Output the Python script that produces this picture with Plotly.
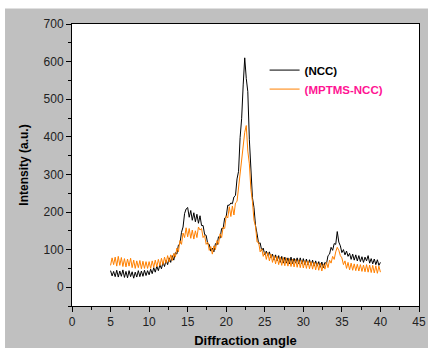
import plotly.graph_objects as go

angle = [round(5.0 + 0.2 * i, 1) for i in range(176)]

ncc = [
    44, 30, 42, 28, 45,
    27, 43, 29, 46, 26,
    42, 25, 44, 28, 41,
    24, 40, 27, 44, 28,
    43, 29, 45, 31, 44,
    33, 48, 36, 52, 40,
    56, 44, 60, 49, 66,
    55, 72, 60, 78, 66,
    84, 72, 92, 88, 112,
    116, 146, 160, 196, 208,
    212, 186, 204, 178, 198,
    174, 194, 170, 190, 164,
    164, 140, 138, 115, 114,
    96, 104, 94, 116, 112,
    134, 130, 156, 156, 184,
    188, 218, 218, 224, 222,
    240, 244, 288, 308, 398,
    448, 538, 610, 555, 520,
    392, 308, 238, 212, 164,
    142, 116, 118, 98, 104,
    86, 96, 84, 94, 78,
    88, 72, 86, 70, 84,
    66, 82, 64, 80, 64,
    78, 62, 80, 63, 77,
    64, 78, 62, 78, 62,
    76, 60, 75, 59, 73,
    58, 72, 56, 70, 56,
    68, 53, 67, 52, 66,
    62, 84, 88, 106, 98,
    116, 114, 148, 120, 110,
    92, 100, 86, 96, 82,
    90, 74, 88, 72, 86,
    70, 84, 68, 81, 66,
    80, 70, 84, 64, 76,
    62, 75, 60, 73, 58,
    66,
]

mptms = [
    58, 78, 60, 80, 56,
    82, 58, 79, 55, 76,
    54, 75, 56, 77, 52,
    72, 50, 70, 52, 71,
    49, 69, 50, 68, 50,
    68, 50, 70, 53, 72,
    54, 74, 57, 77, 60,
    80, 64, 84, 67, 86,
    71, 90, 80, 104, 94,
    124, 114, 144, 132, 158,
    134, 156, 130, 152, 128,
    150, 132, 160, 152, 156,
    132, 138, 114, 120, 98,
    108, 88, 110, 100, 124,
    114, 142, 132, 160, 156,
    190, 184, 214, 188, 216,
    192, 224, 228, 268, 292,
    348, 378, 412, 430, 362,
    328, 260, 228, 178, 162,
    120, 120, 94, 102, 82,
    94, 74, 92, 70, 88,
    66, 84, 62, 82, 60,
    80, 58, 79, 57, 78,
    56, 76, 55, 75, 54,
    74, 53, 73, 52, 72,
    51, 71, 50, 70, 49,
    68, 48, 67, 46, 65,
    45, 64, 43, 62, 48,
    66, 52, 72, 64, 82,
    74, 94, 106, 98, 84,
    78, 60, 70, 50, 66,
    46, 64, 45, 62, 44,
    61, 43, 60, 42, 59,
    41, 60, 40, 59, 39,
    58, 38, 57, 37, 56,
    40,
]

x_ticks = [0, 5, 10, 15, 20, 25, 30, 35, 40, 45]
y_ticks = [0, 100, 200, 300, 400, 500, 600, 700]

fig = go.Figure()
fig.add_trace(go.Scatter(x=angle, y=ncc, mode="lines",
                         line=dict(color="#000000", width=1),
                         name="<b>(NCC)</b>"))
fig.add_trace(go.Scatter(x=angle, y=mptms, mode="lines",
                         line=dict(color="#ff8000", width=1),
                         name="<b><span style='color:#ff1493'>(MPTMS-NCC)</span></b>"))

axis_common = dict(
    showline=True, linecolor="#000000", linewidth=1, mirror=True,
    ticks="outside", ticklen=5, tickwidth=1, tickcolor="#000000",
    showgrid=False, zeroline=False, automargin=False,
    tickfont=dict(family="Liberation Sans, Arial", size=12, color="#222222"),
)

fig.update_layout(
    width=428, height=348,
    margin=dict(l=72, r=9, t=24, b=42),
    paper_bgcolor="#c0c0c0",
    plot_bgcolor="#ffffff",
    font=dict(family="Liberation Sans, Arial", color="#000000"),
    xaxis=dict(range=[0, 45], tickvals=x_ticks,
               minor=dict(dtick=2.5, ticks="outside", ticklen=3, tickcolor="#000000"),
               title=dict(text="<b>Diffraction angle</b>", standoff=8,
                          font=dict(size=13, family="Liberation Sans, Arial", color="#000000")),
               **axis_common),
    yaxis=dict(range=[-50, 700], tickvals=y_ticks,
               minor=dict(dtick=50, ticks="outside", ticklen=3, tickcolor="#000000"),
               title=dict(text="<b>Intensity (a.u.)</b>", standoff=12,
                          font=dict(size=12, family="Liberation Sans, Arial", color="#000000")),
               **axis_common),
    legend=dict(x=0.555, y=0.888, xanchor="left", yanchor="top",
                bgcolor="rgba(0,0,0,0)", borderwidth=0,
                font=dict(size=11.5, family="Liberation Sans, Arial", color="#000000"),
                tracegroupgap=0),
    showlegend=True,
    shapes=[
        dict(type="rect", xref="paper", yref="paper", x0=-0.5, x1=1.5, y0=1.055, y1=1.5,
             fillcolor="#ffffff", line=dict(width=0), layer="below"),
        dict(type="rect", xref="paper", yref="paper", x0=-0.5, x1=-0.193, y0=-0.5, y1=1.5,
             fillcolor="#ffffff", line=dict(width=0), layer="below"),
    ],
)

fig.write_html("out.html", config={"displayModeBar": False},
               post_script="document.body.style.margin='0';document.body.style.overflow='hidden';")
